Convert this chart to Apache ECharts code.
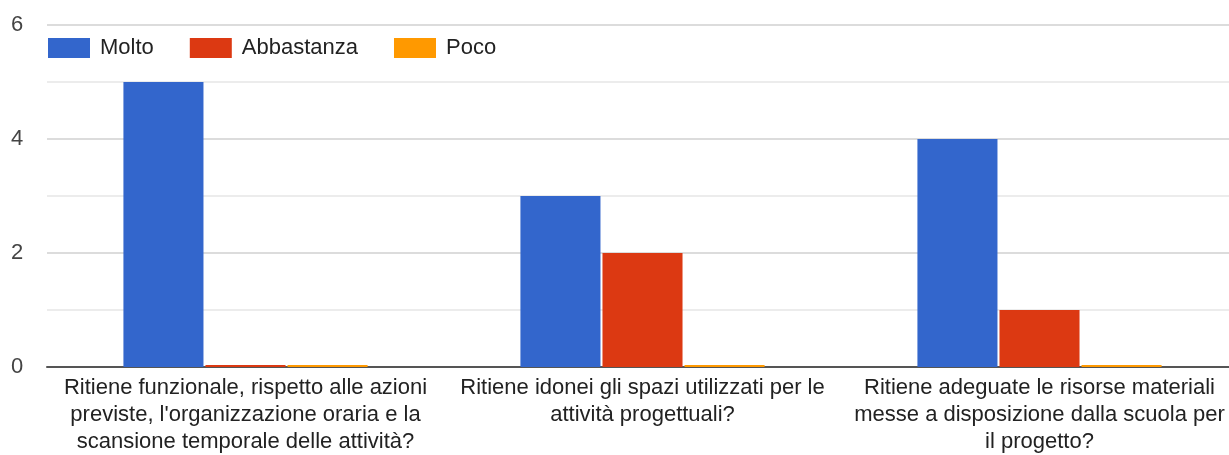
<!doctype html>
<html lang="it">
<head>
    <meta charset="utf-8">
    <title>Grafico</title>
    <style>
        html, body { margin: 0; padding: 0; background: #fff; overflow: hidden; }
        #chart { width: 1238px; height: 455px; }
    </style>
</head>
<body>
    <div id="chart"></div>
    <script src="https://cdn.jsdelivr.net/npm/echarts@6/dist/echarts.min.js"></script>
    <script>
        var categories = [
            "Ritiene funzionale, rispetto alle azioni\nprevisteX, l'organizzazione oraria e la\nscansione temporale delle attività?".replace('X', ''),
            'Ritiene idonei gli spazi utilizzati per le\nattività progettuali?',
            'Ritiene adeguate le risorse materiali\nmesse a disposizione dalla scuola per\nil progetto?'
        ];
        var molto = [5, 3, 4];
        var abbastanza = [0, 2, 1];
        var poco = [0, 0, 0];

        var font = 'Liberation Sans, Arial, sans-serif';
        var chart = echarts.init(document.getElementById('chart'));

        chart.setOption({
            animation: false,
            textStyle: { fontFamily: font },
            color: ['#3366cc', '#dc3912', '#ff9900'],
            legend: {
                left: 43,
                top: 32,
                itemWidth: 42,
                itemHeight: 20,
                itemGap: 36,
                icon: 'rect',
                textStyle: { fontSize: 22, color: '#222', fontFamily: font, padding: [0, 0, 0, 5] }
            },
            grid: { left: 47, right: 0, top: 25, bottom: 86 },
            xAxis: {
                type: 'category',
                data: categories,
                axisTick: { show: false },
                axisLine: { lineStyle: { color: '#555', width: 2 } },
                axisLabel: {
                    color: '#222',
                    fontSize: 22,
                    lineHeight: 27,
                    margin: 7,
                    interval: 0
                }
            },
            yAxis: {
                type: 'value',
                min: 0,
                max: 6,
                interval: 1,
                axisLine: { show: false },
                axisTick: { show: false },
                axisLabel: {
                    color: '#444',
                    fontSize: 22,
                    margin: 36,
                    align: 'left',
                    // solo i valori pari hanno l'etichetta
                    formatter: function (v) { return v % 2 === 0 ? String(v) : ''; }
                },
                splitLine: { lineStyle: { color: ['#dcdcdc', '#ececec'], width: 2 } }
            },
            series: [
                { name: 'Molto', type: 'bar', data: molto, barGap: '2.5%', barCategoryGap: '38.5%', barMinHeight: 2 },
                { name: 'Abbastanza', type: 'bar', data: abbastanza, barMinHeight: 2 },
                { name: 'Poco', type: 'bar', data: poco, barMinHeight: 2 }
            ]
        });
    </script>
</body>
</html>
